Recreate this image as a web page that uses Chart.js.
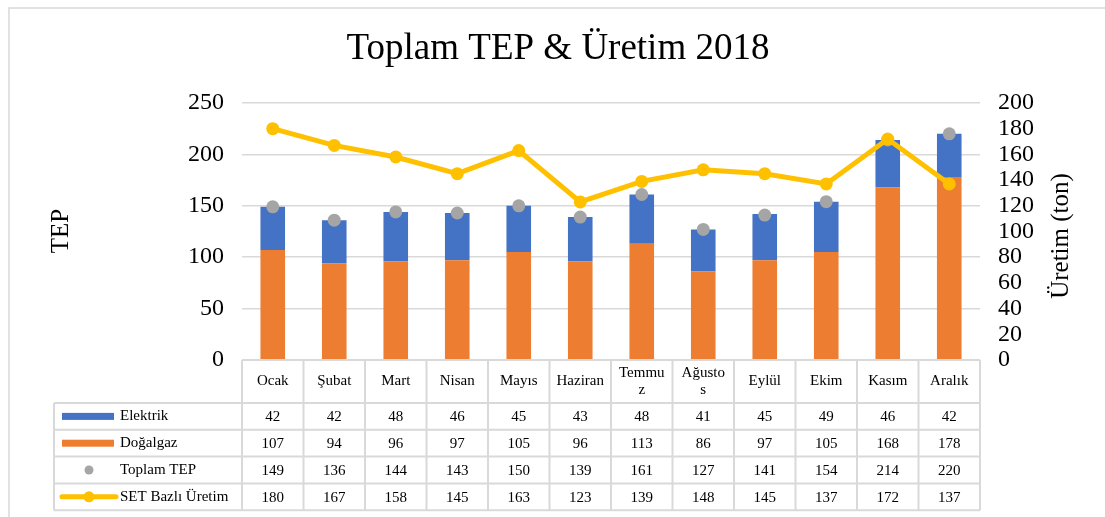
<!DOCTYPE html>
<html>
<head>
    <title>Toplam TEP & Üretim 2018</title>
    <meta charset="UTF-8">
    <style>
        body {
            margin: 0;
            background: #fff;
        }
        canvas {
            display: block;
        }
    </style>
    <script src="https://cdn.jsdelivr.net/npm/chart.js"></script>
</head>
<body>
    <canvas id="tepChart" width="1105" height="517"></canvas>

    <script>
        // aylar (tabloda kaydırılmış başlıklar dahil)
        const aylar = ['Ocak', 'Şubat', 'Mart', 'Nisan', 'Mayıs', 'Haziran', ['Temmu', 'z'], ['Ağusto', 's'], 'Eylül', 'Ekim', 'Kasım', 'Aralık'];
        const elektrik = [42, 42, 48, 46, 45, 43, 48, 41, 45, 49, 46, 42];
        const dogalgaz = [107, 94, 96, 97, 105, 96, 113, 86, 97, 105, 168, 178];
        const toplamTep = [149, 136, 144, 143, 150, 139, 161, 127, 141, 154, 214, 220];
        const setUretim = [180, 167, 158, 145, 163, 123, 139, 148, 145, 137, 172, 137];

        const serif = "'Liberation Serif', 'Times New Roman', serif";
        const gridRenk = '#d9d9d9';

        // başlık, eksen başlıkları ve veri tablosu
        const tabloPlugin = {
            id: 'tablo',
            beforeDraw(chart) {
                const c = chart.ctx;
                c.save();
                c.fillStyle = '#fff';
                c.fillRect(0, 0, chart.width, chart.height);
                c.strokeStyle = gridRenk;
                c.lineWidth = 1.5;
                c.strokeRect(9, 8, chart.width + 20, chart.height + 20);
                c.restore();
            },
            afterDraw(chart) {
                const c = chart.ctx;
                const area = chart.chartArea;
                const x = chart.scales.x;
                const half = (area.right - area.left) / aylar.length / 2;

                c.save();
                c.fillStyle = '#000';
                c.textAlign = 'center';
                c.textBaseline = 'middle';
                c.font = '37px ' + serif;
                c.fillText('Toplam TEP & Üretim 2018', 558, 49);

                c.font = '25px ' + serif;
                c.save();
                c.translate(61, 231);
                c.rotate(-Math.PI / 2);
                c.fillText('TEP', 0, 0);
                c.restore();
                c.save();
                c.translate(1061, 236);
                c.rotate(-Math.PI / 2);
                c.fillText('Üretim (ton)', 0, 0);
                c.restore();

                // tablo satırları
                const ust = area.bottom;
                const baslikAlt = 403;
                const satirH = 26.8;
                const solKenar = 54;
                const satirlar = [
                    { ad: 'Elektrik', veri: elektrik, tip: 'bar', renk: '#4472c4' },
                    { ad: 'Doğalgaz', veri: dogalgaz, tip: 'bar', renk: '#ed7d31' },
                    { ad: 'Toplam TEP', veri: toplamTep, tip: 'nokta', renk: '#a5a5a5' },
                    { ad: 'SET Bazlı Üretim', veri: setUretim, tip: 'cizgi', renk: '#ffc000' }
                ];
                const alt = baslikAlt + satirH * satirlar.length;

                c.strokeStyle = gridRenk;
                c.lineWidth = 2;
                c.beginPath();
                c.moveTo(area.left, ust);
                c.lineTo(area.right, ust);
                c.moveTo(solKenar, baslikAlt);
                c.lineTo(area.right, baslikAlt);
                for (let r = 1; r <= satirlar.length; r++) {
                    c.moveTo(solKenar, baslikAlt + satirH * r);
                    c.lineTo(area.right, baslikAlt + satirH * r);
                }
                c.moveTo(solKenar, baslikAlt);
                c.lineTo(solKenar, alt);
                for (let i = 0; i <= aylar.length; i++) {
                    const px = area.left + half * 2 * i;
                    c.moveTo(px, ust);
                    c.lineTo(px, alt);
                }
                c.stroke();

                c.font = '15px ' + serif;
                c.fillStyle = '#000';
                aylar.forEach((ay, i) => {
                    const px = x.getPixelForValue(i);
                    const yMid = (ust + baslikAlt) / 2;
                    if (Array.isArray(ay)) {
                        c.fillText(ay[0], px, yMid - 8);
                        c.fillText(ay[1], px, yMid + 9);
                    } else {
                        c.fillText(ay, px, yMid);
                    }
                });

                satirlar.forEach((s, r) => {
                    const yMid = baslikAlt + satirH * r + satirH / 2;
                    s.veri.forEach((v, i) => {
                        c.textAlign = 'center';
                        c.fillStyle = '#000';
                        c.fillText(v, x.getPixelForValue(i), yMid + 1);
                    });
                    // lejant sembolü
                    c.fillStyle = s.renk;
                    c.strokeStyle = s.renk;
                    if (s.tip === 'bar') {
                        c.fillRect(62, yMid - 3.5, 52, 7);
                    } else if (s.tip === 'nokta') {
                        c.beginPath();
                        c.arc(89, yMid, 4.5, 0, Math.PI * 2);
                        c.fill();
                    } else {
                        c.lineWidth = 5;
                        c.lineCap = 'round';
                        c.beginPath();
                        c.moveTo(62, yMid);
                        c.lineTo(116, yMid);
                        c.stroke();
                        c.beginPath();
                        c.arc(89, yMid, 5.5, 0, Math.PI * 2);
                        c.fill();
                    }
                    c.fillStyle = '#000';
                    c.textAlign = 'left';
                    c.fillText(s.ad, 120, yMid);
                });
                c.restore();
            }
        };

        const ctx = document.getElementById('tepChart').getContext('2d');
        const chart = new Chart(ctx, {
            type: 'bar',
            data: {
                labels: aylar,
                datasets: [
                    {
                        type: 'line',
                        label: 'SET Bazlı Üretim',
                        data: setUretim,
                        yAxisID: 'y1',
                        stack: 'uretim',
                        borderColor: '#ffc000',
                        backgroundColor: '#ffc000',
                        borderWidth: 5,
                        pointRadius: 6.5,
                        pointBorderWidth: 0,
                        tension: 0,
                        order: 0
                    },
                    {
                        type: 'line',
                        label: 'Toplam TEP',
                        data: toplamTep,
                        yAxisID: 'y',
                        stack: 'toplam',
                        showLine: false,
                        backgroundColor: '#a5a5a5',
                        borderColor: '#a5a5a5',
                        pointRadius: 6.5,
                        pointBorderWidth: 0,
                        order: 1
                    },
                    {
                        label: 'Doğalgaz',
                        data: dogalgaz,
                        yAxisID: 'y',
                        stack: 'tep',
                        backgroundColor: '#ed7d31',
                        barPercentage: 1,
                        categoryPercentage: 0.4,
                        order: 2
                    },
                    {
                        label: 'Elektrik',
                        data: elektrik,
                        yAxisID: 'y',
                        stack: 'tep',
                        backgroundColor: '#4472c4',
                        barPercentage: 1,
                        categoryPercentage: 0.4,
                        order: 2
                    }
                ]
            },
            options: {
                responsive: false,
                animation: false,
                layout: {
                    padding: { top: 103, bottom: 157, left: 0, right: 0 }
                },
                plugins: {
                    legend: { display: false },
                    tooltip: { enabled: false }
                },
                scales: {
                    x: {
                        display: false,
                        stacked: true
                    },
                    y: {
                        position: 'left',
                        stacked: true,
                        min: 0,
                        max: 250,
                        ticks: {
                            stepSize: 50,
                            padding: 18,
                            color: '#000',
                            font: { family: serif, size: 24 }
                        },
                        grid: {
                            color: gridRenk,
                            lineWidth: 1.5,
                            drawTicks: false
                        },
                        border: { display: false },
                        afterFit(scale) { scale.width = 242; }
                    },
                    y1: {
                        position: 'right',
                        min: 0,
                        max: 200,
                        ticks: {
                            stepSize: 20,
                            autoSkip: false,
                            padding: 18,
                            color: '#000',
                            font: { family: serif, size: 24 }
                        },
                        grid: { display: false, drawTicks: false },
                        border: { display: false },
                        afterFit(scale) { scale.width = 125; }
                    }
                }
            },
            plugins: [tabloPlugin]
        });
    </script>
</body>
</html>
